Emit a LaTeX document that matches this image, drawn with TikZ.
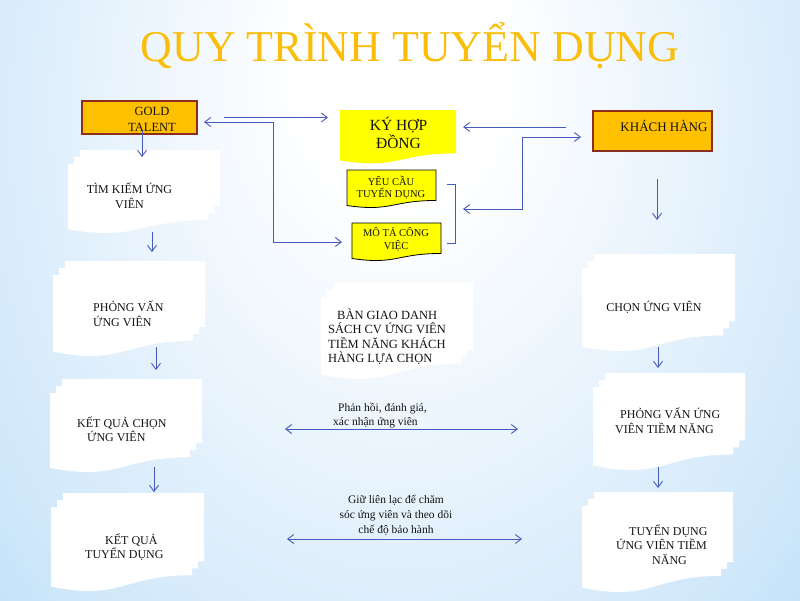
\documentclass[tikz,border=0pt]{standalone}
\usepackage{fontspec}
\setmainfont{Liberation Serif}
\usetikzlibrary{arrows.meta,calc}
\definecolor{bgblue}{RGB}{120,188,240}
\definecolor{bgblue2}{RGB}{160,210,245}
\definecolor{bgmid}{RGB}{206,231,250}
\definecolor{bgpale}{RGB}{236,245,253}
\definecolor{titlegold}{RGB}{250,190,10}
\definecolor{boxorange}{RGB}{255,192,0}
\definecolor{boxborder}{RGB}{140,45,30}
\definecolor{docyellow}{RGB}{255,255,0}
\definecolor{arrowblue}{RGB}{70,90,190}
\definecolor{inktext}{RGB}{20,20,20}
\pgfdeclareradialshading{bgshade}{\pgfpoint{0bp}{10bp}}{color(0bp)=(white); color(5bp)=(white); color(13bp)=(bgpale); color(24bp)=(bgmid); color(36bp)=(bgblue2); color(48bp)=(bgblue); color(60bp)=(bgblue)}
% document shape: left x, top y, width, height, options
\newcommand\docfill[5]{%
  \pgfmathsetmacro\dxl{#1}\pgfmathsetmacro\dyt{#2}%
  \pgfmathsetmacro\dxr{#1+#3}\pgfmathsetmacro\dyr{#2+0.802*#4}%
  \pgfmathsetmacro\dxm{#1+0.5*#3}\pgfmathsetmacro\dyc{#2+1.107*#4}%
  \pgfmathsetmacro\dyl{#2+0.934*#4}%
  \path[#5] (\dxl,\dyt) -- (\dxr,\dyt) -- (\dxr,\dyr) .. controls (\dxm,\dyr) and (\dxm,\dyc) .. (\dxl,\dyl) -- cycle;}
% multi-document: name, x0, y0, x1, y1
\newcommand\mdoc[5]{%
  \pgfmathsetmacro\mw{#4-#2-12}\pgfmathsetmacro\mh{(#5-#3-14)/0.987}%
  \docfill{#2+12}{#3}{\mw}{\mh}{fill=white}%
  \docfill{#2+6}{#3+7}{\mw}{\mh}{fill=white}%
  \docfill{#2}{#3+14}{\mw}{\mh}{fill=white}%
  \node[area, minimum width={#4-#2}, minimum height={#5-#3}] (#1) at ({(#2+#4)/2},{(#3+#5)/2}) {};}
\tikzset{
  area/.style={inner sep=0pt, outer sep=0pt, draw=none},
  barb/.tip={Straight Barb[length=6pt,width=9pt]},
  arr/.style={draw=arrowblue, line width=0.9pt, -barb},
  dbl/.style={draw=arrowblue, line width=0.9pt, barb-barb},
  plain/.style={draw=arrowblue, line width=0.9pt},
  orangebox/.style={fill=boxorange, draw=boxborder, line width=2pt, inner sep=0pt},
  txt/.style={text=inktext, inner sep=0pt, anchor=base, font=\fontsize{12}{15}\selectfont},
}
\begin{document}
\begin{tikzpicture}[x=1pt,y=-1pt]
\useasboundingbox (0,0) rectangle (800,600);
\begin{scope}
  \clip (0,0) rectangle (800,600);
  \shade[shading=bgshade] (-100,-350) rectangle (900,950);
\end{scope}

% title
\node[anchor=base, inner sep=0pt, text=titlegold, font=\fontsize{44}{50}\selectfont] (title) at (410,61) {QUY TRÌNH TUYỂN DỤNG};

% top row
\node[orangebox, minimum width=115, minimum height=33] (gold) at (139.5,117.5) {};
\node[txt, align=center, font=\fontsize{12.5}{16}\selectfont] (goldt) at (152,131) {GOLD\\TALENT};
\node[orangebox, minimum width=119, minimum height=40] (khach) at (652.5,131) {};
\node[txt, font=\fontsize{13}{16}\selectfont] (khacht) at (664,131) {KHÁCH HÀNG};

\docfill{340}{110}{116}{54}{fill=docyellow}
\node[area, minimum width=116, minimum height=53] (ky) at (398,136.5) {};
\node[txt, align=center, font=\fontsize{15.5}{18}\selectfont] (kyt) at (398.5,148) {KÝ HỢP\\ĐỒNG};

\docfill{347}{170}{89}{38}{fill=docyellow, draw=black, line width=0.8pt}
\node[area, minimum width=89, minimum height=38] (yeu) at (391.5,189) {};
\node[txt, align=center, font=\fontsize{10.5}{12.5}\selectfont] (yeut) at (391,197.5) {YÊU CẦU\\TUYỂN DỤNG};

\docfill{352}{223}{89}{38}{fill=docyellow, draw=black, line width=0.8pt}
\node[area, minimum width=89, minimum height=38] (mota) at (396.5,242) {};
\node[txt, align=center, font=\fontsize{10.5}{13}\selectfont] (motat) at (396,249) {MÔ TẢ CÔNG\\VIỆC};

\coordinate (brk) at (455,209);
\draw[plain] (447,184) -- (455,184) -- (455,243) -- (447,243);

% white multi-documents
\mdoc{tim}{68}{150}{220}{233}
\mdoc{phong}{53}{261}{205}{356}
\mdoc{kq1}{50}{379}{202}{472}
\mdoc{kq2}{51}{493}{204}{591}
\mdoc{ban}{321}{283}{473}{379}
\mdoc{r1}{582}{254}{735}{351}
\mdoc{r2}{593}{373}{745}{470}
\mdoc{r3}{582}{492}{733}{592}

\node[txt, align=center] (timt) at (129.5,208) {TÌM KIẾM ỨNG\\VIÊN};
\node[txt, align=left, anchor=base west] (phongt) at (93,326) {PHỎNG VẤN\\ỨNG VIÊN};
\node[txt, align=left, anchor=base west, font=\fontsize{12}{14}\selectfont] (kq1t) at (77,441) {KẾT QUẢ CHỌN\\\hspace*{10pt}ỨNG VIÊN};
\node[txt, align=left, anchor=base west, font=\fontsize{12}{14}\selectfont] (kq2t) at (85,558) {\hspace*{20pt}KẾT QUẢ\\TUYỂN DỤNG};
\node[txt, align=left, anchor=base west, font=\fontsize{12.5}{14.5}\selectfont] (bant) at (328,362.5) {\hspace*{9pt}BÀN GIAO DANH\\SÁCH CV ỨNG VIÊN\\TIỀM NĂNG KHÁCH\\HÀNG LỰA CHỌN};
\node[txt] (r1t) at (654,311) {CHỌN ỨNG VIÊN};
\node[txt, align=left, anchor=base west, font=\fontsize{12}{15}\selectfont] (r2t) at (615,433) {\hspace*{5pt}PHỎNG VẤN ỨNG\\VIÊN TIỀM NĂNG};
\node[txt, align=left, anchor=base west, font=\fontsize{12}{14.5}\selectfont] (r3t) at (616,564) {\hspace*{13pt}TUYỂN DỤNG\\ỨNG VIÊN TIỀM\\\hspace*{36pt}NĂNG};

\node[txt, align=left, anchor=base west, font=\fontsize{11.5}{14}\selectfont] (fbt) at (333,425) {\hspace*{5pt}Phản hồi, đánh giá,\\xác nhận ứng viên};
\node[txt, align=center, font=\fontsize{11.5}{15}\selectfont] (caret) at (396,533) {Giữ liên lạc để chăm\\sóc ứng viên và theo dõi\\chế độ bảo hành};

% connectors
\draw[arr] ([xshift=26pt]gold.east) -- ([xshift=-12pt,yshift=19pt]ky.west);
\draw[dbl] ([xshift=6pt,yshift=-4.5pt]gold.east) -- ++(69pt,0) |- ([xshift=-10pt]mota.west);
\draw[arr] ([xshift=-26pt,yshift=4pt]khach.west) -- ([xshift=7pt,yshift=9.5pt]ky.east);
\draw[dbl] ([xshift=8pt]brk) -- ++(59pt,0) |- ([xshift=-11pt,yshift=-6pt]khach.west);
\draw[arr] ([xshift=4.5pt,yshift=-27pt]khach.south) -- ([xshift=-1.5pt,yshift=34pt]r1.north);

\draw[arr] ([xshift=2.5pt,yshift=4pt]gold.south) -- ([xshift=-2pt,yshift=-7pt]tim.north);
\draw[arr] ([xshift=8pt,yshift=1pt]tim.south) -- ([xshift=23pt,yshift=9pt]phong.north);
\draw[arr] ([xshift=27pt,yshift=9pt]phong.south) -- ([xshift=30pt,yshift=9pt]kq1.north);
\draw[arr] ([xshift=28pt,yshift=5pt]kq1.south) -- ([xshift=26.5pt,yshift=1pt]kq2.north);
\draw[arr] ([xshift=-0.5pt,yshift=4pt]r1.south) -- ([xshift=-11pt,yshift=5pt]r2.north);
\draw[arr] ([xshift=-11pt,yshift=3pt]r2.south) -- ([xshift=0.5pt,yshift=4pt]r3.north);

\draw[dbl, shorten <=83pt, shorten >=75pt] ([yshift=-3.5pt]kq1.east) -- ([yshift=-7.5pt]r2.west);
\draw[dbl, shorten <=83pt, shorten >=60pt] ([yshift=3pt]kq2.east) -- ([yshift=3pt]r3.west);
\end{tikzpicture}
\end{document}
